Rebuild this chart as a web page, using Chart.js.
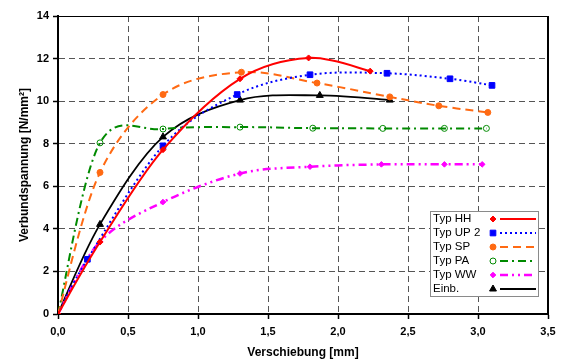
<!DOCTYPE html>
<html>
<head>
<meta charset="utf-8">
<script src="https://cdn.jsdelivr.net/npm/chart.js@4/dist/chart.umd.min.js"></script>
<style>
  html, body { margin: 0; padding: 0; background: #fff; }
  #chart { display: block; }
</style>
</head>
<body>
<canvas id="chart" width="562" height="361"></canvas>
<script>
// Values (Verschiebung in mm, Verbundspannung in N/mm²)
const hhX = [0, 0.30, 0.75, 1.30, 1.79, 2.23];
const hhY = [0, 3.38, 7.72, 11.05, 12.03, 11.41];

const upX = [0, 0.21, 0.75, 1.28, 1.80, 2.35, 2.80, 3.10];
const upY = [0, 2.57, 7.90, 10.31, 11.24, 11.31, 11.05, 10.74];

const spX = [0, 0.30, 0.75, 1.31, 1.85, 2.37, 2.72, 3.07];
const spY = [0, 6.65, 10.31, 11.36, 10.85, 10.20, 9.78, 9.47];

const paX = [0, 0.30, 0.75, 1.30, 1.82, 2.32, 2.76, 3.06];
const paY = [0, 8.04, 8.69, 8.78, 8.73, 8.72, 8.72, 8.72];

const wwX = [0, 0.30, 0.75, 1.30, 1.80, 2.31, 2.76, 3.03];
const wwY = [0, 3.40, 5.26, 6.60, 6.92, 7.03, 7.03, 7.03];

const einX = [0, 0.30, 0.75, 1.30, 1.87, 2.37];
const einY = [0, 4.21, 8.32, 10.05, 10.27, 10.05];

const seriesNames = ["Typ HH", "Typ UP 2", "Typ SP", "Typ PA", "Typ WW", "Einb."];

const FONT = "'Liberation Sans', Arial, sans-serif";

function toPoints(xs, ys) {
  return xs.map((x, i) => ({ x: x, y: ys[i] }));
}

// hide the marker at the origin for all but the top series
function radii(n, r, showFirst) {
  return Array.from({ length: n }, (_, i) => (i === 0 && !showFirst ? 0 : r));
}

const styles = [
  { color: "#ff0000", dash: [], width: 2, point: "rectRot", r: 3, fill: "#ff0000" },
  { color: "#0000ff", dash: [2, 3], width: 2, point: "rect", r: 4, fill: "#0000ff" },
  { color: "#ff6a13", dash: [8, 5], width: 2, point: "circle", r: 3, fill: "#ff6a13" },
  { color: "#008a00", dash: [8, 4, 2, 4], width: 2, point: "circle", r: 3, fill: "rgba(255,255,255,0)" },
  { color: "#ff00ff", dash: [8, 4, 2, 4, 2, 4], width: 2.5, point: "rectRot", r: 2.8, fill: "#ff00ff" },
  { color: "#000000", dash: [], width: 1.8, point: "triangle", r: 4, fill: "#000000" },
];

const allX = [hhX, upX, spX, paX, wwX, einX];
const allY = [hhY, upY, spY, paY, wwY, einY];

const datasets = seriesNames.map((name, k) => {
  const s = styles[k];
  return {
    label: name,
    data: toPoints(allX[k], allY[k]),
    borderColor: s.color,
    borderWidth: s.width,
    borderDash: s.dash,
    backgroundColor: s.fill,
    pointStyle: s.point,
    pointRadius: radii(allX[k].length, s.r, k === 0),
    pointBorderColor: s.color,
    pointBackgroundColor: s.fill,
    pointBorderWidth: 1,
    tension: 0.4,
    fill: false,
  };
});

// Excel-style smoothing: uniform Catmull-Rom control points (1/6 of neighbour span)
const excelSmooth = {
  id: "excelSmooth",
  beforeDatasetDraw(chart, args) {
    const meta = args.meta;
    meta.dataset.updateControlPoints(chart.chartArea, meta.iScale.axis);
    const pts = meta.data;
    const n = pts.length;
    for (let i = 0; i < n; i++) {
      const p = pts[i];
      const prev = pts[Math.max(i - 1, 0)];
      const next = pts[Math.min(i + 1, n - 1)];
      const dx = (next.x - prev.x) / 6;
      const dy = (next.y - prev.y) / 6;
      p.cp1x = p.x - dx;
      p.cp1y = p.y - dy;
      p.cp2x = p.x + dx;
      p.cp2y = p.y + dy;
    }
  },
};

// Frame on top/right and the boxed legend in the lower right
const framePlugin = {
  id: "frame",
  afterDraw(chart) {
    const ctx = chart.ctx;
    const a = chart.chartArea;
    ctx.save();
    ctx.strokeStyle = "#000";
    ctx.lineWidth = 1;
    ctx.beginPath();
    ctx.moveTo(a.left, a.top + 0.5);
    ctx.lineTo(a.right, a.top + 0.5);
    ctx.stroke();
    ctx.lineWidth = 2;
    ctx.beginPath();
    ctx.moveTo(a.right, a.top);
    ctx.lineTo(a.right, a.bottom);
    ctx.stroke();

    // legend box
    const bx = 430.5, by = 211.5, bw = 108, bh = 85;
    ctx.fillStyle = "#fff";
    ctx.fillRect(bx, by, bw, bh);
    ctx.strokeStyle = "#8a8a8a";
    ctx.lineWidth = 1;
    ctx.strokeRect(bx, by, bw, bh);

    ctx.font = "11.5px " + FONT;
    ctx.textBaseline = "middle";
    seriesNames.forEach((name, k) => {
      const s = styles[k];
      const y = 219 + k * 14;
      ctx.fillStyle = "#000";
      ctx.setLineDash([]);
      ctx.fillText(name, 433, y);
      // marker
      ctx.fillStyle = s.fill;
      ctx.strokeStyle = s.color;
      ctx.lineWidth = 1;
      Chart.helpers.drawPoint(ctx, { pointStyle: s.point, radius: s.r, rotation: 0, borderWidth: 1 }, 493, y);
      // line sample
      ctx.beginPath();
      ctx.strokeStyle = s.color;
      ctx.lineWidth = s.width;
      ctx.setLineDash(s.dash);
      ctx.moveTo(500, y);
      ctx.lineTo(536, y);
      ctx.stroke();
    });
    ctx.restore();
  },
};

new Chart(document.getElementById("chart").getContext("2d"), {
  type: "line",
  data: { datasets: datasets },
  options: {
    responsive: false,
    animation: false,
    layout: { padding: { top: 16, right: 14, left: 0, bottom: 0 } },
    plugins: {
      legend: { display: false },
      tooltip: { enabled: false },
    },
    scales: {
      x: {
        type: "linear",
        min: 0,
        max: 3.5,
        afterFit(axis) { axis.height = 47; },
        ticks: {
          stepSize: 0.5,
          color: "#000",
          padding: 6,
          font: { family: FONT, size: 11, weight: "bold" },
          callback: (v) => v.toFixed(1).replace(".", ","),
        },
        grid: { color: "#555", lineWidth: 1, tickColor: "#000", tickLength: 5, tickWidth: 1.5 },
        border: { color: "#000", width: 2, dash: [6, 4] },
        title: {
          display: true,
          text: "Verschiebung [mm]",
          color: "#000",
          font: { family: FONT, size: 12, weight: "bold" },
          padding: { top: 0, bottom: 1 },
        },
      },
      y: {
        min: 0,
        max: 14,
        afterFit(axis) { axis.width = 58; },
        ticks: {
          stepSize: 2,
          color: "#000",
          padding: 4,
          font: { family: FONT, size: 11, weight: "bold" },
        },
        grid: { color: "#555", lineWidth: 1, tickColor: "#000", tickLength: 5, tickWidth: 1.5 },
        border: { color: "#000", width: 2, dash: [6, 4] },
        title: {
          display: true,
          text: "Verbundspannung [N/mm²]",
          color: "#000",
          font: { family: FONT, size: 12, weight: "bold" },
          padding: { top: 17, bottom: 0 },
        },
      },
    },
  },
  plugins: [excelSmooth, framePlugin],
});
</script>
</body>
</html>
